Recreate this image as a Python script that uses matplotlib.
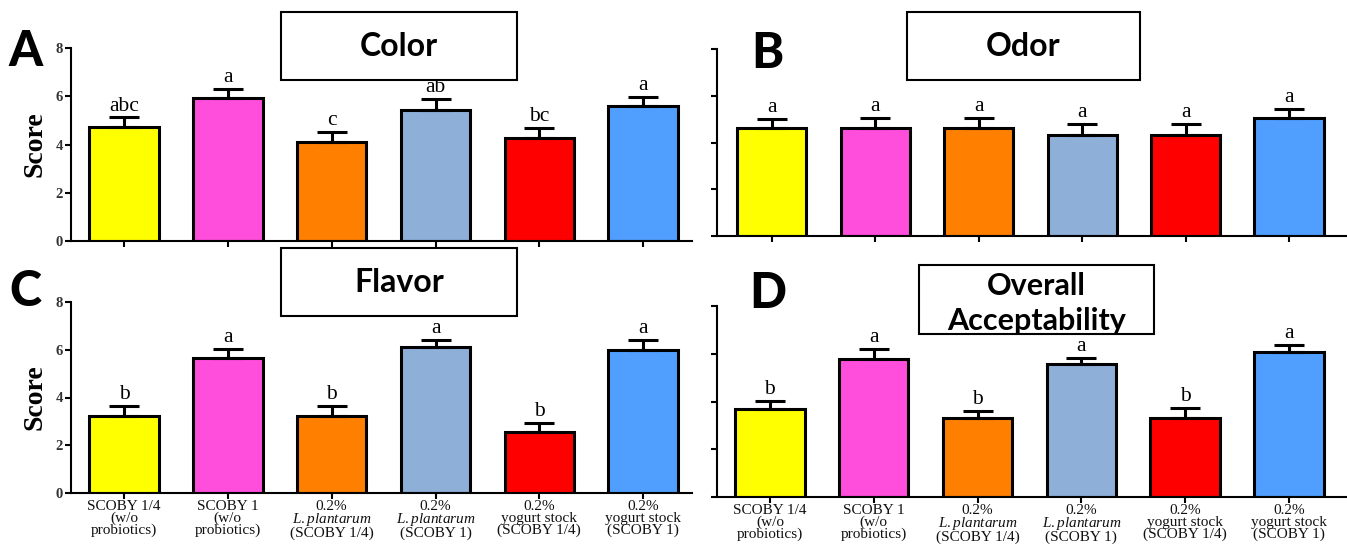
import matplotlib.pyplot as plt
import numpy as np
from matplotlib.patches import Rectangle

plt.rcParams['font.family'] = 'Liberation Serif'
plt.rcParams['mathtext.fontset'] = 'custom'
plt.rcParams['mathtext.it'] = 'Liberation Serif:italic'
plt.rcParams['mathtext.rm'] = 'Liberation Serif'

# treatments
groups = ['SCOBY 1/4\n(w/o\nprobiotics)', 'SCOBY 1\n(w/o\nprobiotics)',
          '0.2%\n$\\mathit{L.plantarum}$\n(SCOBY 1/4)', '0.2%\n$\\mathit{L.plantarum}$\n(SCOBY 1)',
          '0.2%\nyogurt stock\n(SCOBY 1/4)', '0.2%\nyogurt stock\n(SCOBY 1)']
colors = ['#FFFF00', '#FF4DDC', '#FF8000', '#8DAFD8', '#FF0000', '#509FFF']

# sensory scores (mean, upper SE, letters)
color_mean = [4.73, 5.92, 4.11, 5.43, 4.28, 5.61]
color_err = [0.39, 0.37, 0.41, 0.44, 0.42, 0.35]
color_sig = ['abc', 'a', 'c', 'ab', 'bc', 'a']

odor_mean = [4.61, 4.61, 4.61, 4.30, 4.30, 5.04]
odor_err = [0.39, 0.43, 0.43, 0.49, 0.49, 0.39]
odor_sig = ['a', 'a', 'a', 'a', 'a', 'a']

flavor_mean = [3.21, 5.66, 3.21, 6.12, 2.56, 6.00]
flavor_err = [0.45, 0.39, 0.45, 0.30, 0.37, 0.42]
flavor_sig = ['b', 'a', 'b', 'a', 'b', 'a']

overall_mean = [3.69, 5.80, 3.32, 5.55, 3.32, 6.08]
overall_err = [0.33, 0.39, 0.28, 0.29, 0.42, 0.28]
overall_sig = ['b', 'a', 'b', 'a', 'b', 'a']

W, H = 1347, 551
fig = plt.figure(figsize=(W / 100, H / 100), dpi=100)


def add_ax(l, t, r, b):
    return fig.add_axes([l / W, 1 - b / H, (r - l) / W, (b - t) / H])


def draw(ax, means, errs, sig, xlim, show_y, show_x):
    x = np.arange(len(means))
    ax.bar(x, means, width=0.67, color=colors, edgecolor='black', linewidth=2.2, zorder=2)
    ax.errorbar(x, means, yerr=[np.zeros(len(errs)), errs], fmt='none', ecolor='black',
                elinewidth=2.2, capsize=11, capthick=2.2, zorder=3)
    for xi, m, e, s in zip(x, means, errs, sig):
        ax.text(xi, m + e + 0.08, s, ha='center', va='bottom', fontsize=15.5)
    ax.set_xlim(xlim)
    ax.set_ylim(0, 8)
    for s in ['top', 'right']:
        ax.spines[s].set_visible(False)
    for s in ['left', 'bottom']:
        ax.spines[s].set_linewidth(1.5)
    ax.set_yticks([0, 2, 4, 6, 8])
    ax.set_xticks(x)
    ax.tick_params(direction='out', length=4, width=1.5, labelsize=10.5, labelcolor='#333333', pad=2)
    if show_y:
        for lab in ax.get_yticklabels():
            lab.set_fontweight('bold')
        ax.text(-0.058, 0.5, 'Score', transform=ax.transAxes, rotation=90, ha='center',
                va='center', fontsize=20, fontweight='bold')
    else:
        ax.set_yticklabels([])
    if show_x:
        ax.set_xticklabels(groups, fontsize=11, linespacing=0.86)
        ax.tick_params(axis='x', pad=1, labelcolor='#111111')
    else:
        ax.set_xticklabels([])


def title_box(l, t, r, b, text, size=23, ls=1.2, dy=0):
    fig.add_artist(Rectangle((l / W, 1 - b / H), (r - l) / W, (b - t) / H, transform=fig.transFigure,
                             facecolor='white', edgecolor='black', linewidth=1.5, zorder=5))
    fig.text((l + r) / 2 / W, 1 - ((t + b) / 2 + dy) / H, text, ha='center', va='center',
             fontfamily='Lato', fontweight='bold', fontsize=size, linespacing=ls, zorder=6)


axA = add_ax(71, 48, 692, 241)
draw(axA, color_mean, color_err, color_sig, (-0.51, 5.47), True, False)
axB = add_ax(717, 49, 1347, 236)
draw(axB, odor_mean, odor_err, odor_sig, (-0.53, 5.56), False, False)
axC = add_ax(71, 302, 692, 493)
draw(axC, flavor_mean, flavor_err, flavor_sig, (-0.51, 5.47), True, True)
axD = add_ax(717, 306, 1347, 497)
draw(axD, overall_mean, overall_err, overall_sig, (-0.51, 5.56), False, True)

title_box(281, 12, 517, 80, 'Color')
title_box(907, 12, 1140, 80, 'Odor')
title_box(281, 248, 517, 316, 'Flavor')
title_box(919, 265, 1154, 334, 'Overall\nAcceptability', size=22, ls=1.3, dy=4)

for lx, by, letter in [(26, 66, 'A'), (767, 68, 'B'), (25, 306, 'C'), (768, 308, 'D')]:
    fig.text(lx / W, 1 - by / H, letter, ha='center', va='baseline', fontfamily='Lato',
             fontweight='black', fontsize=35)

fig.savefig('out.png', dpi=100)
